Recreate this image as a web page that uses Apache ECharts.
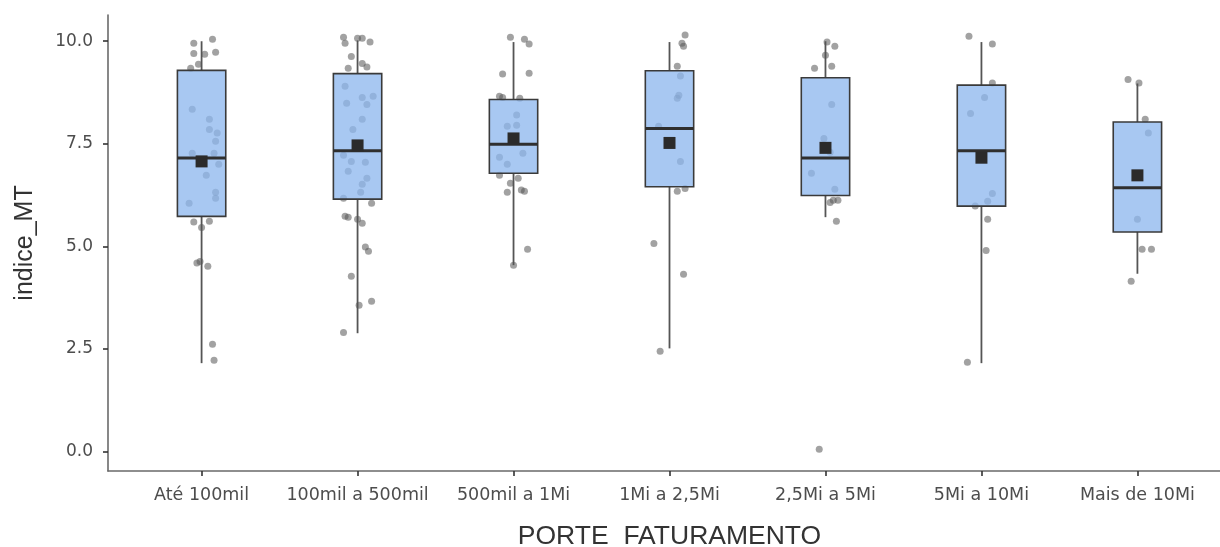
<!DOCTYPE html>
<html>
<head>
<meta charset="utf-8">
<script src="https://cdn.jsdelivr.net/npm/echarts@6/dist/echarts.min.js"></script>
<style>
  html, body { margin: 0; padding: 0; background: #ffffff; }
  #chart { width: 1220px; height: 547px; }
</style>
</head>
<body>
<div id="chart"></div>
<script>
// Revenue-size groups on the x axis
const categories = ['Até 100mil', '100mil a 500mil', '500mil a 1Mi', '1Mi a 2,5Mi', '2,5Mi a 5Mi', '5Mi a 10Mi', 'Mais de 10Mi'];

// Box statistics per group: [lower whisker, Q1, median, Q3, upper whisker]
const boxStats = [
  [2.15, 5.73, 7.15, 9.29, 10.00],
  [2.88, 6.15, 7.33, 9.21, 10.02],
  [4.54, 6.78, 7.49, 8.58, 9.98],
  [2.51, 6.45, 7.87, 9.28, 9.98],
  [5.71, 6.24, 7.15, 9.11, 10.00],
  [2.15, 5.98, 7.33, 8.93, 9.98],
  [4.33, 5.35, 6.43, 8.03, 8.97]
];

// Group means (square markers)
const means = [7.07, 7.46, 7.63, 7.52, 7.40, 7.16, 6.73];

// Y tick values
const yTicks = [0, 2.5, 5, 7.5, 10];

// Individual observations per group: [horizontal jitter (category units), indice_MT]
const ptsAte100mil = [
  [-0.05, 9.95], [0.07, 10.05], [-0.05, 9.70], [0.02, 9.68], [0.09, 9.73], [-0.02, 9.44], [-0.07, 9.34],
  [-0.06, 8.34], [0.05, 8.10], [0.05, 7.85], [0.10, 7.76], [0.09, 7.56], [-0.06, 7.27], [0.08, 7.27],
  [0.11, 7.00], [0.03, 6.73], [0.09, 6.32], [0.09, 6.17], [-0.08, 6.05], [-0.05, 5.59], [0.05, 5.61],
  [0.00, 5.46], [-0.03, 4.59], [-0.01, 4.63], [0.04, 4.51], [0.07, 2.61], [0.08, 2.22]
];
const pts100a500mil = [
  [-0.09, 10.10], [-0.08, 9.95], [0.00, 10.07], [0.03, 10.07], [0.08, 9.98], [-0.04, 9.63], [-0.06, 9.34],
  [0.03, 9.46], [0.06, 9.37], [-0.08, 8.90], [-0.07, 8.49], [0.03, 8.63], [0.06, 8.46], [0.10, 8.66],
  [0.03, 8.10], [-0.03, 7.85], [-0.09, 7.22], [-0.04, 7.07], [0.05, 7.05], [-0.06, 6.83], [0.06, 6.66],
  [0.03, 6.51], [0.02, 6.32], [-0.09, 6.17], [0.09, 6.05], [-0.08, 5.73], [-0.06, 5.71], [0.00, 5.66],
  [0.03, 5.56], [0.05, 4.98], [0.07, 4.88], [-0.04, 4.27], [0.01, 3.56], [0.09, 3.66], [-0.09, 2.90]
];
const pts500mila1Mi = [
  [-0.02, 10.10], [0.07, 10.05], [0.10, 9.93], [-0.07, 9.20], [0.10, 9.22], [-0.09, 8.66], [-0.07, 8.63],
  [0.04, 8.61], [0.02, 8.20], [-0.04, 7.93], [0.02, 7.95], [-0.09, 7.17], [0.06, 7.27], [-0.04, 7.00],
  [-0.09, 6.73], [-0.02, 6.54], [0.03, 6.66], [-0.04, 6.32], [0.05, 6.37], [0.07, 6.34], [0.09, 4.93],
  [0.00, 4.54]
];
const pts1a2_5Mi = [
  [0.10, 10.15], [0.08, 9.95], [0.09, 9.88], [0.05, 9.39], [0.07, 9.15], [0.05, 8.61], [0.06, 8.68],
  [-0.07, 7.93], [0.07, 7.07], [0.05, 6.34], [0.10, 6.41], [-0.10, 5.07], [0.09, 4.32], [-0.06, 2.44]
];
const pts2_5a5Mi = [
  [0.01, 9.98], [0.06, 9.88], [0.00, 9.66], [0.04, 9.39], [-0.07, 9.34], [0.04, 8.46], [-0.01, 7.63],
  [0.03, 7.29], [-0.09, 6.78], [0.06, 6.39], [0.05, 6.12], [0.08, 6.12], [0.03, 6.07], [0.07, 5.61],
  [-0.04, 0.05]
];
const pts5a10Mi = [
  [-0.08, 10.12], [0.07, 9.93], [0.07, 8.98], [0.02, 8.63], [-0.07, 8.24], [0.07, 6.29], [0.04, 6.10],
  [-0.04, 5.98], [0.04, 5.66], [0.03, 4.90], [-0.09, 2.17]
];
const ptsMaisDe10Mi = [
  [-0.06, 9.07], [0.01, 8.98], [0.05, 8.10], [0.07, 7.76], [0.00, 5.66], [0.03, 4.93], [0.09, 4.93],
  [-0.04, 4.15]
];

const groupPoints = [ptsAte100mil, pts100a500mil, pts500mila1Mi, pts1a2_5Mi, pts2_5a5Mi, pts5a10Mi, ptsMaisDe10Mi];

// ---- derived series data ----
const positions = categories.map((_, i) => i + 1);
const jitterData = [];
groupPoints.forEach((pts, i) => {
  pts.forEach(([dx, v]) => jitterData.push([positions[i] + dx, v]));
});
const boxData = boxStats.map((s, i) => [positions[i]].concat(s));
const meanData = means.map((m, i) => [positions[i], m]);

const BOX_WIDTH = 0.31; // in category units
const tickFont = 'DejaVu Sans';
const titleFont = 'Liberation Sans';

function renderBox(params, api) {
  const x = api.value(0);
  const lo = api.coord([x, api.value(1)]);
  const q1 = api.coord([x, api.value(2)]);
  const md = api.coord([x, api.value(3)]);
  const q3 = api.coord([x, api.value(4)]);
  const hi = api.coord([x, api.value(5)]);
  const w = api.size([BOX_WIDTH, 0])[0];
  const cx = md[0];
  const whisker = { stroke: '#555555', lineWidth: 1.8 };
  return {
    type: 'group',
    children: [
      { type: 'line', shape: { x1: cx, y1: hi[1], x2: cx, y2: q3[1] }, style: whisker },
      { type: 'line', shape: { x1: cx, y1: q1[1], x2: cx, y2: lo[1] }, style: whisker },
      {
        type: 'rect',
        shape: { x: cx - w / 2, y: q3[1], width: w, height: q1[1] - q3[1] },
        style: { fill: 'rgba(140,183,238,0.76)', stroke: '#3a3a3a', lineWidth: 1.6 }
      },
      {
        type: 'line',
        shape: { x1: cx - w / 2, y1: md[1], x2: cx + w / 2, y2: md[1] },
        style: { stroke: '#2f2f2f', lineWidth: 3 }
      }
    ]
  };
}

const chart = echarts.init(document.getElementById('chart'), null, { renderer: 'canvas' });
chart.setOption({
  animation: false,
  backgroundColor: '#ffffff',
  grid: { left: 108, right: -11, top: 15, bottom: 76, outerBoundsMode: 'none', containLabel: false },
  xAxis: {
    type: 'value',
    min: 0.4,
    max: 7.6,
    splitLine: { show: false },
    axisLine: { show: true, onZero: false, lineStyle: { color: '#6a6a6a', width: 1.6 } },
    axisTick: { show: true, customValues: positions, length: 5, lineStyle: { color: '#333333', width: 1.6 } },
    axisLabel: {
      customValues: positions,
      formatter: v => categories[Math.round(v) - 1],
      margin: 15,
      color: '#4d4d4d',
      fontFamily: tickFont,
      fontSize: 17.5
    },
    name: 'PORTE_FATURAMENTO',
    nameLocation: 'middle',
    nameGap: 52,
    nameTextStyle: { color: '#333333', fontFamily: titleFont, fontSize: 26.5 }
  },
  yAxis: {
    type: 'value',
    min: -0.48,
    max: 10.64,
    splitLine: { show: false },
    axisLine: { show: true, onZero: false, lineStyle: { color: '#6a6a6a', width: 1.6 } },
    axisTick: { show: true, customValues: yTicks, length: 5, lineStyle: { color: '#333333', width: 1.6 } },
    axisLabel: {
      customValues: yTicks,
      formatter: v => v.toFixed(1),
      margin: 15,
      color: '#4d4d4d',
      fontFamily: tickFont,
      fontSize: 17
    },
    name: 'indice_MT',
    nameLocation: 'middle',
    nameGap: 70,
    nameTextStyle: { color: '#333333', fontFamily: titleFont, fontSize: 25 }
  },
  series: [
    {
      name: 'observações',
      type: 'scatter',
      data: jitterData,
      symbol: 'circle',
      symbolSize: 7,
      itemStyle: { color: 'rgba(85,85,85,0.55)', opacity: 1 },
      z: 2
    },
    {
      name: 'boxplot',
      type: 'custom',
      data: boxData,
      encode: { x: 0, y: [1, 2, 3, 4, 5] },
      renderItem: renderBox,
      z: 3
    },
    {
      name: 'média',
      type: 'scatter',
      data: meanData,
      symbol: 'rect',
      symbolSize: 12,
      itemStyle: { color: '#2b2b2b', opacity: 1 },
      z: 4
    }
  ]
});
</script>
</body>
</html>
